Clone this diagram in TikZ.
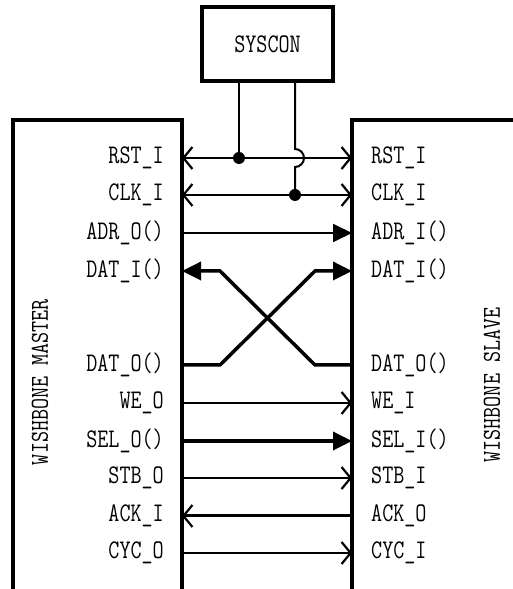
\documentclass[tikz,border=0pt]{standalone}
\usetikzlibrary{arrows.meta, positioning, calc}

\begin{document}
\begin{tikzpicture}[x=1pt, y=1pt,
        box/.style={draw=black, line width=3.5pt},
        pin/.style={inner sep=0pt, font=\ttfamily\fontsize{21.5}{21.5}\selectfont, yscale=1.25, transform shape},
        title/.style={inner sep=0pt, font=\ttfamily\fontsize{21.5}{21.5}\selectfont, rotate=90, yscale=1.2, transform shape},
        sig/.style={draw=black, line width=2pt},
        bus/.style={draw=black, line width=3.5pt},
        opn/.style={-{Straight Barb[length=9pt, width=22pt, line width=2.2pt]}},
        both/.style={{Straight Barb[length=9pt, width=22pt, line width=2.2pt]}-{Straight Barb[length=9pt, width=22pt, line width=2.2pt]}},
        fil/.style={-{Triangle[length=19pt, width=18pt]}}
    ]
        \useasboundingbox (0,0) rectangle (512,589);

        % Bloques: SYSCON, maestro y esclavo
        \draw [box] (202, 582) rectangle (333, 508);
        \node [pin] (syscon) at (267.5, 545) {SYSCON};
        \draw [box] (182, -10) -- (182, 469) -- (13, 469) -- (13, -10);
        \draw [box] (352, -10) -- (352, 469) -- (540, 469);
        \node [title] (mtitle) at (40, 207) {WISHBONE MASTER};
        \node [title] (stitle) at (492, 204) {WISHBONE SLAVE};

        % Terminales de ambos lados
        \foreach \n/\y/\ml/\sl in {rst/431/RST\_I/RST\_I, clk/394/CLK\_I/CLK\_I,
                adr/356/ADR\_O()/ADR\_I(), dati/318/DAT\_I()/DAT\_I(),
                dato/224/DAT\_O()/DAT\_O(), we/186/WE\_O/WE\_I,
                sel/148/SEL\_O()/SEL\_I(), stb/111/STB\_O/STB\_I,
                ack/73/ACK\_I/ACK\_O, cyc/36/CYC\_O/CYC\_I} {
            \coordinate (m-\n) at (182, \y);
            \coordinate (s-\n) at (352, \y);
            \node [pin, anchor=east] (ml-\n) at (164, \y) {\ml};
            \node [pin, anchor=west] (sl-\n) at (371, \y) {\sl};
        }

        % Reloj y reset desde SYSCON
        \coordinate (rstj) at (239, 431);
        \coordinate (clkj) at (295, 394);
        \draw [sig, both] (m-rst) -- (s-rst);
        \draw [sig, both] (m-clk) -- (s-clk);
        \draw [sig] (239, 508) -- (rstj);
        \draw [sig] (295, 508) -- ($(clkj |- rstj) + (0, 9)$) arc[start angle=90, end angle=-90, radius=9] -- (clkj);
        \fill (rstj) circle (6pt);
        \fill (clkj) circle (6pt);

        % Direcciones y datos cruzados
        \draw [sig, fil] (m-adr) -- (s-adr);
        \draw [bus, fil] (m-dato) -- ++(38, 0) -- ($(s-dati) + (-37, 0)$) -- (s-dati);
        \draw [bus, fil] (s-dato) -- ++(-37, 0) -- ($(m-dati) + (38, 0)$) -- (m-dati);

        % Señales de control
        \draw [sig, opn] (m-we) -- (s-we);
        \draw [bus, fil] (m-sel) -- (s-sel);
        \draw [sig, opn] (m-stb) -- (s-stb);
        \draw [sig, line width=3pt, opn] (s-ack) -- (m-ack);
        \draw [sig, opn] (m-cyc) -- (s-cyc);
    \end{tikzpicture}
\end{document}
